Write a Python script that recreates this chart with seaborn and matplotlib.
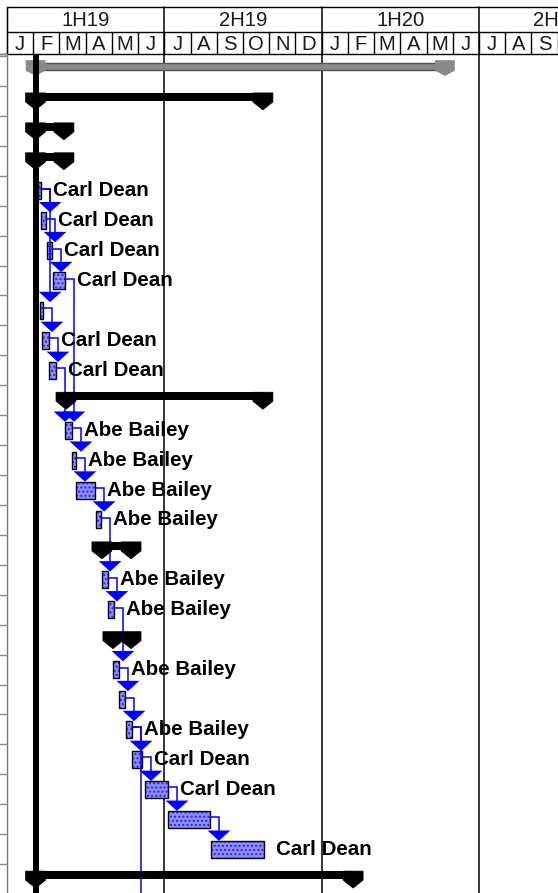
import numpy as np
import pandas as pd
import matplotlib
matplotlib.use("Agg")
import matplotlib.pyplot as plt
from matplotlib.patches import Rectangle, Polygon
import seaborn as sns

# ---------------- data (x in months from 1 Jan 2019, y in row index) -------------
half_labels = ["1H19", "2H19", "1H20", "2H20"]
month_labels = ["J", "F", "M", "A", "M", "J", "J", "A", "S", "O", "N", "D",
                "J", "F", "M", "A", "M", "J", "J", "A", "S"]

summary_rows = [0, 1, 2, 3, 11, 16, 19, 27]
summary_start = [1.09, 1.09, 1.09, 1.09, 2.25, 3.62, 4.04, 1.09]
summary_end = [16.70, 9.76, 2.17, 2.17, 9.76, 4.73, 4.73, 13.20]

task_rows = [4, 5, 6, 7, 8, 9, 10, 12, 13, 14, 15, 17, 18, 20, 21, 22, 23, 24, 25, 26]
task_start = [1.18, 1.30, 1.53, 1.75, 1.26, 1.33, 1.60, 2.21, 2.48, 2.63, 3.39, 3.62,
              3.85, 4.04, 4.27, 4.54, 4.77, 5.26, 6.14, 7.78]
task_end = [1.30, 1.49, 1.72, 2.21, 1.37, 1.60, 1.87, 2.48, 2.63, 3.36, 3.59, 3.85,
            4.08, 4.27, 4.50, 4.77, 5.15, 6.14, 7.74, 9.80]
task_resource = ["Carl Dean", "Carl Dean", "Carl Dean", "Carl Dean", "", "Carl Dean",
                 "Carl Dean", "Abe Bailey", "Abe Bailey", "Abe Bailey", "Abe Bailey",
                 "Abe Bailey", "Abe Bailey", "Abe Bailey", "", "Abe Bailey",
                 "Carl Dean", "Carl Dean", "", "Carl Dean"]

link_from = [4, 5, 6, 4, 8, 9, 10, 7, 12, 13, 14, 15, 17, 18, 20, 21, 22, 22, 23, 24, 25]
link_to = [5, 6, 7, 8, 9, 10, 12, 12, 13, 14, 15, 17, 18, 20, 21, 22, 23, 29, 24, 25, 26]

status_date = 1.09

# ---------------- geometry ----------------
W, H = 558, 893
PXM = 26.22          # px per month
X0 = 7               # px of month 0
ROW0 = 71.0          # px of row 0 centre
PXR = 29.93          # px per row

def dx(px):
    return px / PXM

def dy(px):
    return px / PXR

sns.set_style("white")
plt.rcParams["font.family"] = ["Liberation Sans", "DejaVu Sans"]

fig = plt.figure(figsize=(W / 100, H / 100), dpi=100)
ax = fig.add_axes([0, 0, 1, 1])
xmin = -X0 / PXM
xmax = (W - X0) / PXM
ytop = -ROW0 / PXR
ybot = (H - ROW0) / PXR
ax.set_xlim(xmin, xmax)
ax.set_ylim(ybot, ytop)
ax.axis("off")

def ypx(px):
    return (px - ROW0) / PXR

# ---------------- header ----------------
y_top, y_mid, y_bot = ypx(7), ypx(32), ypx(53.5)
ax.plot([0, xmax], [y_top, y_top], color="black", lw=1)
ax.plot([0, xmax], [y_mid, y_mid], color="black", lw=1)
ax.plot([xmin, xmax], [y_bot, y_bot], color="black", lw=1)
ax.plot([0, 0], [y_top, ybot], color="#7a7a7a", lw=1)
ax.plot([0, 0], [y_top, y_bot], color="black", lw=1)
for i, lab in enumerate(half_labels):
    ax.text(6 * i + 3, ypx(20.5), lab, ha="center", va="center", fontsize=14.6,
            color="#1a1a1a")
for i, lab in enumerate(month_labels):
    ax.text(i + 0.5, ypx(44.5), lab, ha="center", va="center", fontsize=14.6,
            color="#1a1a1a")
for i in range(len(month_labels) + 1):
    ax.plot([i + 1, i + 1], [y_mid, y_bot], color="black", lw=1)
for i in range(1, 4):
    ax.plot([6 * i, 6 * i], [y_top, ybot], color="black", lw=1.1, zorder=1)

# left table stubs
for r in range(0, 29):
    yb = r - 0.5
    ax.plot([xmin, 0], [yb, yb], color="#8a8a8a", lw=1, clip_on=True)
ax.plot([xmin, 0], [y_bot, y_bot], color="#8a8a8a", lw=1)

# ---------------- task bars ----------------
bh = dy(17)
for r, s, e in zip(task_rows, task_start, task_end):
    ax.add_patch(Rectangle((s, r - bh / 2), e - s, bh, facecolor="#8f8fff",
                           edgecolor="#2020ff", hatch="....", lw=0, zorder=3))
    ax.add_patch(Rectangle((s, r - bh / 2), e - s, bh, facecolor="none",
                           edgecolor="black", lw=1.0, zorder=4))

for r, e, name in zip(task_rows, task_end, task_resource):
    if name:
        ax.text(e + dx(12), r, name, ha="left", va="center", fontsize=14.8,
                fontweight="bold", color="black", zorder=6)

# ---------------- links ----------------
end_of = dict(zip(task_rows, task_end))
tri_x, tri_y = [], []
for a, b in zip(link_from, link_to):
    xa = end_of[a] + dx(9)
    ya = a - dy(2)
    yb_top = b - dy(8.5)
    ax.plot([end_of[a], xa, xa], [ya, ya, yb_top - dy(9)], color="#0000ff",
            lw=1.1, zorder=5, solid_joinstyle="miter")
    tri_x.append(xa)
    tri_y.append(yb_top - dy(5))
arrows = pd.DataFrame({"x": tri_x, "y": tri_y})
sns.scatterplot(data=arrows, x="x", y="y", marker=[(-11, 5), (11, 5), (0, -5)],
                s=270, color="#0000ff", edgecolor="none", linewidth=0, ax=ax,
                zorder=5, legend=False)

# ---------------- summary bars ----------------
def cap(xc, r, color, w=20, top=-8, rect_bot=1, tip=9):
    hw = dx(w / 2)
    pts = [(xc - hw, r + dy(top)), (xc + hw, r + dy(top)), (xc + hw, r + dy(rect_bot)),
           (xc, r + dy(tip)), (xc - hw, r + dy(rect_bot))]
    ax.add_patch(Polygon(pts, closed=True, facecolor=color, edgecolor=color, lw=0.5,
                         zorder=7))

for r, s, e in zip(summary_rows, summary_start, summary_end):
    if r == 0:
        ax.add_patch(Rectangle((s, r - dy(8.5)), e - s, dy(7), facecolor="#8a8a8a",
                               edgecolor="#555555", lw=1, zorder=7))
        cap(s, r, "#8a8a8a", w=19, top=-10.5, rect_bot=-0.5, tip=4.5)
        cap(e, r, "#8a8a8a", w=19, top=-10.5, rect_bot=-0.5, tip=4.5)
    else:
        ax.add_patch(Rectangle((s, r - dy(8)), e - s, dy(8), facecolor="black",
                               edgecolor="black", lw=0, zorder=7))
        cap(s, r, "black")
        cap(e, r, "black")

# status / start line
ax.plot([status_date, status_date], [y_bot, ybot], color="black", lw=4.3, zorder=8,
        solid_capstyle="butt")

fig.savefig("out.png", dpi=100)
